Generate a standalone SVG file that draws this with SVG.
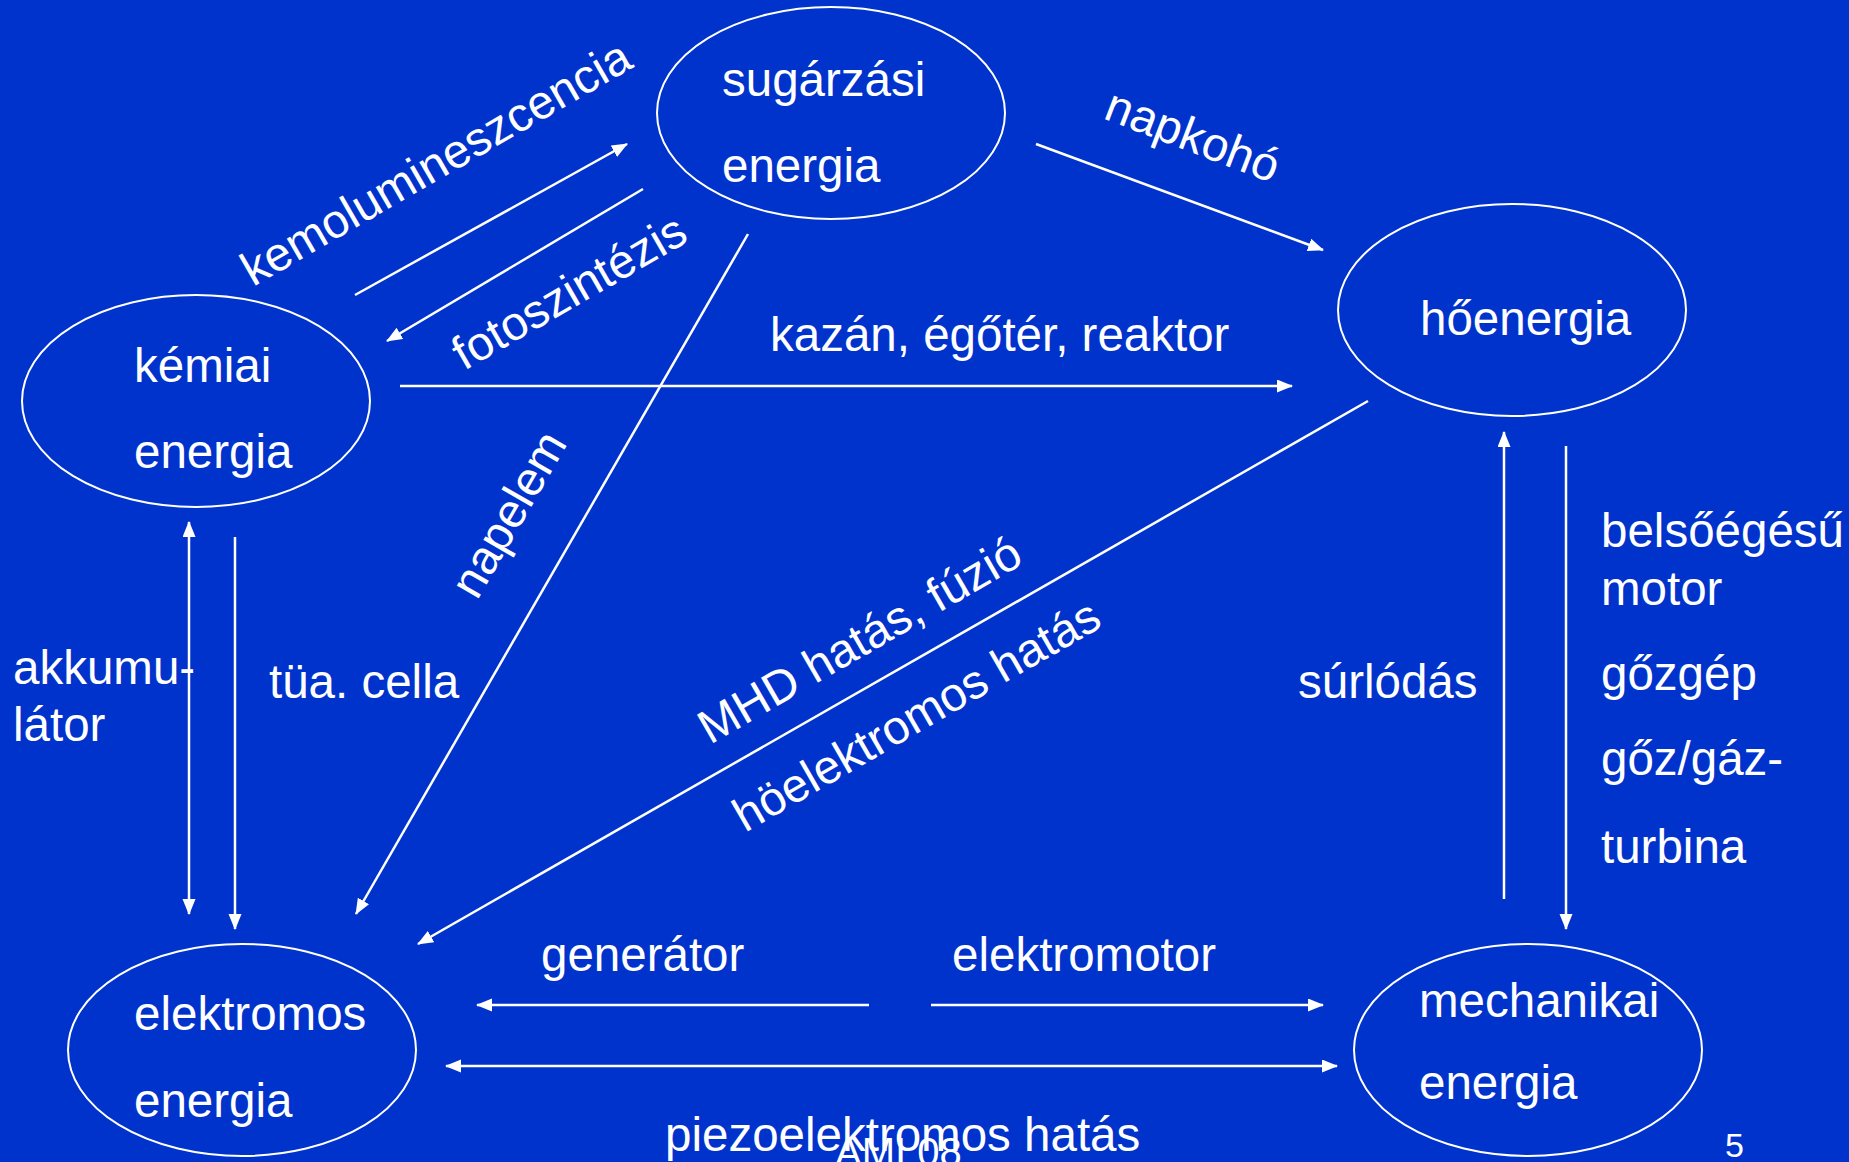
<svg xmlns="http://www.w3.org/2000/svg" width="1849" height="1162" viewBox="0 0 1849 1162">
<style>
.t{font-family:"Liberation Sans",Arial,sans-serif;font-size:47.5px;fill:#fff}
.n{fill:none;stroke:#fff;stroke-width:2}
.c{fill:none;stroke:#fff;stroke-width:2.5}
</style>
<defs>
<marker id="ah" markerUnits="userSpaceOnUse" markerWidth="18" markerHeight="14" refX="15" refY="6.5" orient="auto-start-reverse"><path d="M0,0 L16,6.5 L0,13 z" fill="#fff"/></marker>
</defs>
<rect width="1849" height="1162" fill="#0033cc"/>
<g id="sugarzasi">
<ellipse class="n" cx="831" cy="113" rx="174" ry="106"/>
<text class="t" x="722" y="96">sugárzási</text>
<text class="t" x="722" y="182">energia</text>
</g>
<g id="kemiai">
<ellipse class="n" cx="196" cy="401" rx="174" ry="106"/>
<text class="t" x="134" y="382">kémiai</text>
<text class="t" x="134" y="468">energia</text>
</g>
<g id="hoenergia">
<ellipse class="n" cx="1512" cy="310" rx="174" ry="106"/>
<text class="t" x="1420" y="335">hőenergia</text>
</g>
<g id="elektromos">
<ellipse class="n" cx="242" cy="1050" rx="174" ry="106"/>
<text class="t" x="134" y="1030">elektromos</text>
<text class="t" x="134" y="1117">energia</text>
</g>
<g id="mechanikai">
<ellipse class="n" cx="1528" cy="1050" rx="174" ry="106"/>
<text class="t" x="1419" y="1017">mechanikai</text>
<text class="t" x="1419" y="1099">energia</text>
</g>
<g id="connectors">
<line class="c" x1="355" y1="295" x2="627" y2="144" marker-end="url(#ah)"/>
<line class="c" x1="643" y1="189" x2="387" y2="341" marker-end="url(#ah)"/>
<line class="c" x1="1036" y1="144" x2="1323" y2="250" marker-end="url(#ah)"/>
<line class="c" x1="400" y1="386" x2="1292" y2="386" marker-end="url(#ah)"/>
<line class="c" x1="748" y1="234" x2="356" y2="914" marker-end="url(#ah)"/>
<line class="c" x1="1368" y1="401" x2="418" y2="944" marker-end="url(#ah)"/>
<line class="c" x1="189" y1="522" x2="189" y2="914" marker-start="url(#ah)" marker-end="url(#ah)"/>
<line class="c" x1="235" y1="537" x2="235" y2="929" marker-end="url(#ah)"/>
<line class="c" x1="1504" y1="899" x2="1504" y2="432" marker-end="url(#ah)"/>
<line class="c" x1="1566" y1="446" x2="1566" y2="929" marker-end="url(#ah)"/>
<line class="c" x1="869" y1="1005" x2="477" y2="1005" marker-end="url(#ah)"/>
<line class="c" x1="931" y1="1005" x2="1323" y2="1005" marker-end="url(#ah)"/>
<line class="c" x1="446" y1="1066" x2="1337" y2="1066" marker-start="url(#ah)" marker-end="url(#ah)"/>
</g>
<g id="labels">
<text class="t" transform="translate(253,287) rotate(-30)">kemolumineszcencia</text>
<text class="t" transform="translate(464,371) rotate(-30)">fotoszintézis</text>
<text class="t" transform="translate(1102,118) rotate(21)">napkohó</text>
<text class="t" transform="translate(477,601) rotate(-60)">napelem</text>
<text class="t" x="770" y="351">kazán, égőtér, reaktor</text>
<text class="t" transform="translate(710,745) rotate(-30)">MHD hatás, fúzió</text>
<text class="t" transform="translate(745,833) rotate(-30)">höelektromos hatás</text>
<text class="t" x="13" y="684">akkumu-</text>
<text class="t" x="13" y="741">látor</text>
<text class="t" x="269" y="698">tüa. cella</text>
<text class="t" x="1298" y="698">súrlódás</text>
<text class="t" x="1601" y="547">belsőégésű</text>
<text class="t" x="1601" y="605">motor</text>
<text class="t" x="1601" y="690">gőzgép</text>
<text class="t" x="1601" y="775">gőz/gáz-</text>
<text class="t" x="1601" y="863">turbina</text>
<text class="t" x="541" y="971">generátor</text>
<text class="t" x="952" y="971">elektromotor</text>
<text class="t" x="665" y="1151">piezoelektromos hatás</text>
<text x="835" y="1166" style="font-family:'Liberation Sans',Arial,sans-serif;font-size:40px;fill:#fff">AMI 08</text>
<text x="1725" y="1157" style="font-family:'Liberation Sans',Arial,sans-serif;font-size:34px;fill:#fff">5</text>
</g>
</svg>
